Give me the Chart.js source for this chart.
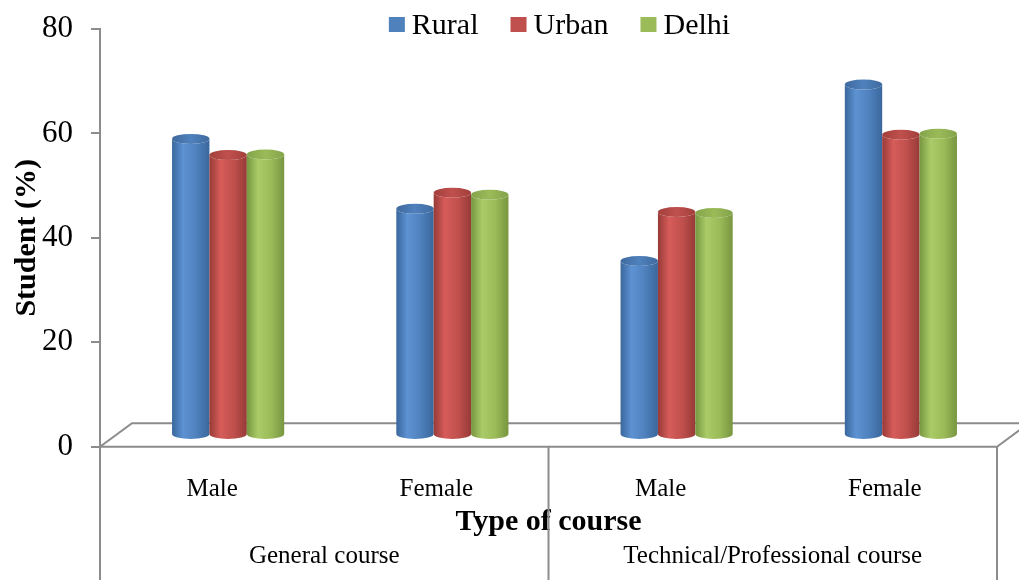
<!DOCTYPE html>
<html>
<head>
<meta charset="utf-8">
<script src="https://cdn.jsdelivr.net/npm/chart.js@4"></script>
<style>
  body { margin: 0; background: #fff; }
  canvas { display: block; }
</style>
</head>
<body>
<canvas id="myChart" width="1019" height="580"></canvas>
<script>
// chart data

const categories = ["Male", "Female", "Male", "Female"];
const groups = ["General course", "Technical/Professional course"];
const seriesNames = ["Rural", "Urban", "Delhi"];
const rural = [56.7, 43.3, 33.3, 67.1];
const urban = [53.6, 46.4, 42.7, 57.5];
const delhi = [53.7, 46.0, 42.5, 57.7];
const yMin = 0;
const yMax = 80;
const yStep = 20;

// colours: base, dark edge, light band, top cap
const palette = [
  { base: "#4F81BD", dark: "#3a679c", light: "#5d92d3", top: "#3f6a9e" },
  { base: "#C0504D", dark: "#973a37", light: "#d65c59", top: "#a23f3c" },
  { base: "#9BBB59", dark: "#779640", light: "#aacb68", top: "#83a34a" },
];

const serif = '"Liberation Serif", "Times New Roman", serif';
Chart.defaults.font.family = serif;
Chart.defaults.color = "#000";

// 3D depth of the floor and of the bars (bars stand at mid depth)
const floorDx = 32;
const floorDy = -23.5;
const lineGrey = "#8c8c8c";

// floor, category box lines and group labels
const floorPlugin = {
  id: "floor",
  beforeDatasetsDraw(chart) {
    const { ctx, chartArea } = chart;
    const { left, right, bottom } = chartArea;
    const xScale = chart.scales.x;
    ctx.save();
    ctx.strokeStyle = lineGrey;
    ctx.lineWidth = 2;
    ctx.beginPath();
    ctx.moveTo(left, bottom);
    ctx.lineTo(right, bottom);
    ctx.moveTo(left, bottom);
    ctx.lineTo(left + floorDx, bottom + floorDy);
    ctx.lineTo(right + floorDx + 40, bottom + floorDy);
    ctx.moveTo(right, bottom);
    ctx.lineTo(right + floorDx, bottom + floorDy);
    // group separators below the floor
    const mid = (xScale.getPixelForValue(1) + xScale.getPixelForValue(2)) / 2;
    [left, mid, right].forEach((x) => {
      ctx.moveTo(x, bottom);
      ctx.lineTo(x, chart.height);
    });
    ctx.stroke();

    // group labels
    ctx.fillStyle = "#000";
    ctx.font = "25px " + serif;
    ctx.textAlign = "center";
    ctx.textBaseline = "middle";
    ctx.fillText(groups[0], (left + mid) / 2, 556);
    ctx.fillText(groups[1], (mid + right) / 2, 556);
    ctx.restore();
  },
};

// draw each bar as a cylinder from the element the bar controller placed
const cylinderPlugin = {
  id: "cylinders",
  beforeDatasetDraw() {
    return false;
  },
  afterDatasetsDraw(chart) {
    const ctx = chart.ctx;
    const dx = floorDx / 2;
    const dy = floorDy / 2;
    ctx.save();
    chart.data.datasets.forEach((ds, i) => {
      const col = palette[i];
      chart.getDatasetMeta(i).data.forEach((bar) => {
        const cx = bar.x + dx;
        const top = bar.y + dy;
        const bot = bar.base + dy;
        const rx = bar.width / 2;
        const ry = 5;
        const l = cx - rx;
        const r = cx + rx;

        const g = ctx.createLinearGradient(l, 0, r, 0);
        g.addColorStop(0, col.dark);
        g.addColorStop(0.3, col.light);
        g.addColorStop(0.65, col.base);
        g.addColorStop(1, col.dark);
        ctx.fillStyle = g;
        ctx.beginPath();
        ctx.moveTo(l, top);
        ctx.lineTo(l, bot);
        ctx.ellipse(cx, bot, rx, ry, 0, Math.PI, 0, true);
        ctx.lineTo(r, top);
        ctx.ellipse(cx, top, rx, ry, 0, 0, Math.PI, false);
        ctx.closePath();
        ctx.fill();

        const gt = ctx.createLinearGradient(l, 0, r, 0);
        gt.addColorStop(0, col.top);
        gt.addColorStop(0.5, col.base);
        gt.addColorStop(1, col.top);
        ctx.fillStyle = gt;
        ctx.beginPath();
        ctx.ellipse(cx, top, rx, ry, 0, 0, Math.PI * 2);
        ctx.fill();
      });
    });
    ctx.restore();
  },
};

// legend centred between the plot's left edge and the canvas' right edge
const legendPlugin = {
  id: "topLegend",
  afterDraw(chart) {
    const ctx = chart.ctx;
    const box = 16;
    const gap = 7;
    const spacing = 32;
    ctx.save();
    ctx.font = "30px " + serif;
    ctx.textBaseline = "middle";
    ctx.textAlign = "left";
    const items = chart.data.datasets.map((ds, i) => ({
      text: ds.label,
      color: palette[i].base,
      w: ctx.measureText(ds.label).width,
    }));
    let total = spacing * (items.length - 1);
    items.forEach((it) => (total += box + gap + it.w));
    let x = (chart.chartArea.left + chart.width) / 2 - total / 2;
    items.forEach((it) => {
      ctx.fillStyle = it.color;
      ctx.fillRect(x, 17, box, 15);
      ctx.fillStyle = "#000";
      ctx.fillText(it.text, x + box + gap, 26);
      x += box + gap + it.w + spacing;
    });
    ctx.restore();
  },
};

const ctx = document.getElementById("myChart").getContext("2d");
const myChart = new Chart(ctx, {
  type: "bar",
  data: {
    labels: categories,
    datasets: [
      { label: seriesNames[0], data: rural, backgroundColor: palette[0].base },
      { label: seriesNames[1], data: urban, backgroundColor: palette[1].base },
      { label: seriesNames[2], data: delhi, backgroundColor: palette[2].base },
    ],
  },
  options: {
    responsive: false,
    animation: false,
    devicePixelRatio: 1,
    categoryPercentage: 0.5,
    barPercentage: 1.0,
    layout: { padding: { top: 29, right: 22, left: 0, bottom: 0 } },
    plugins: {
      legend: { display: false },
      tooltip: { enabled: false },
    },
    scales: {
      x: {
        grid: { display: false },
        border: { display: false },
        ticks: { font: { size: 25 }, padding: 20, maxRotation: 0, color: "#000" },
        title: {
          display: true,
          text: "Type of course",
          font: { size: 30, weight: "bold" },
          padding: { top: 0, bottom: 40 },
          color: "#000",
        },
        afterFit: (scale) => {
          scale.height = 133.3;
          scale.paddingLeft = 0;
          scale.paddingRight = 0;
        },
      },
      y: {
        min: yMin,
        max: yMax,
        ticks: { stepSize: yStep, font: { size: 31 }, padding: 18, color: "#000" },
        grid: { drawOnChartArea: false, color: lineGrey, lineWidth: 2, tickLength: 9 },
        border: { display: true, color: lineGrey, width: 2 },
        title: {
          display: true,
          text: "Student (%)",
          font: { size: 30, weight: "bold" },
          padding: { top: 9, bottom: 0 },
          color: "#000",
        },
        afterFit: (scale) => {
          scale.width = 100;
          scale.paddingTop = 0;
          scale.paddingBottom = 0;
        },
      },
    },
  },
  plugins: [floorPlugin, cylinderPlugin, legendPlugin],
});
</script>
</body>
</html>
